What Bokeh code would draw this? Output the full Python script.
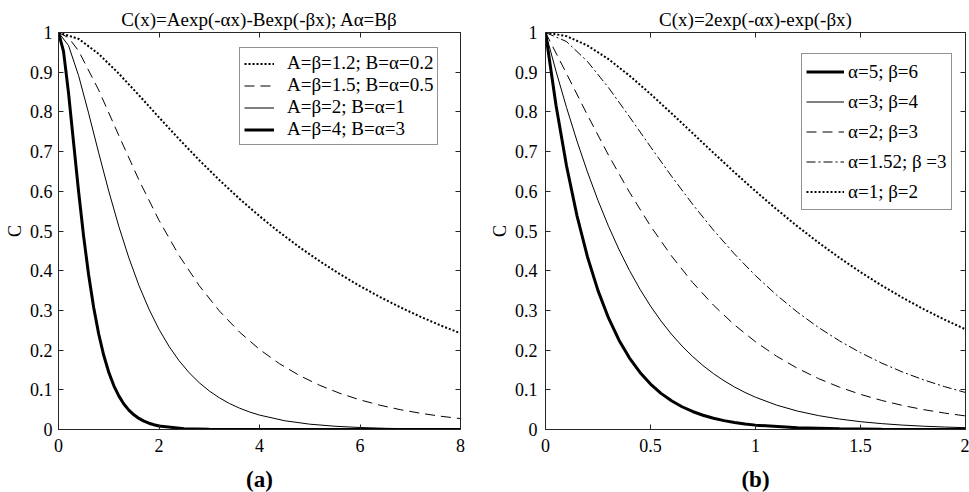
from bokeh.plotting import figure
from bokeh.models import (LinearAxis, FixedTicker, Legend, LegendItem, Range1d,
                          CustomJSTickFormatter)
from bokeh.layouts import row
from bokeh.embed import file_html
from bokeh.resources import INLINE

# ---------------- data: panel (a)  C(x)=Aexp(-ax)-Bexp(-bx), A=b, B=a ----------------
xa_12 = [0, 0.4, 0.8, 1.2, 1.6, 2.0, 2.4, 2.8, 3.2, 3.6, 4.0, 4.4, 4.8, 5.2, 5.6, 6.0,
         6.4, 6.8, 7.2, 7.6, 8.0]
ca_12 = [1, 0.9840, 0.9460, 0.8966, 0.8421, 0.7862, 0.7313, 0.6785, 0.6285, 0.5814,
         0.5375, 0.4967, 0.4588, 0.4238, 0.3913, 0.3613, 0.3336, 0.3079, 0.2843, 0.2624,
         0.2423]

xa_15 = [0, 0.2, 0.4, 0.8, 1.2, 1.6, 2.0, 2.4, 2.8, 3.2, 3.6, 4.0, 4.4, 4.8, 5.2, 5.6,
         6.0, 6.4, 6.8, 7.2, 7.6, 8.0]
ca_15 = [1, 0.9868, 0.9537, 0.8549, 0.7406, 0.6286, 0.5269, 0.4381, 0.3624, 0.2987,
         0.2457, 0.2018, 0.1655, 0.1357, 0.1112, 0.0911, 0.0746, 0.0611, 0.0500, 0.0410,
         0.0335, 0.0275]

xa_2 = [0, 0.2, 0.4, 0.6, 0.8, 1.0, 1.2, 1.4, 1.6, 1.8, 2.0, 2.2, 2.4, 2.6, 2.8, 3.0,
        3.2, 3.4, 3.6, 3.8, 4.0, 4.5, 5.0, 5.5, 6.0, 6.5, 7.0, 7.5, 8.0]
ca_2 = [1, 0.9671, 0.8913, 0.7964, 0.6968, 0.6004, 0.5117, 0.4324, 0.3630, 0.3033,
        0.2524, 0.2093, 0.1732, 0.1430, 0.1179, 0.0971, 0.0799, 0.0656, 0.0539, 0.0442,
        0.0363, 0.0221, 0.0134, 0.0082, 0.0050, 0.0030, 0.0018, 0.0011, 0.0007]

xa_4 = [0, 0.1, 0.2, 0.3, 0.4, 0.5, 0.6, 0.7, 0.8, 0.9, 1.0, 1.1, 1.2, 1.3, 1.4, 1.5,
        1.6, 1.7, 1.8, 1.9, 2.0, 2.5, 3, 4, 5, 6, 7, 8]
ca_4 = [1, 0.9523, 0.8473, 0.7227, 0.5991, 0.4865, 0.3890, 0.3074, 0.2406, 0.1869,
        0.1442, 0.1107, 0.0846, 0.0644, 0.0489, 0.0370, 0.0279, 0.0210, 0.0158, 0.0119,
        0.0089, 0.0021, 0.0005, 0, 0, 0, 0, 0]

labels_a = ["A=β=1.2; B=α=0.2", "A=β=1.5; B=α=0.5", "A=β=2; B=α=1", "A=β=4; B=α=3"]

# ---------------- data: panel (b)  C(x)=2exp(-ax)-exp(-bx) ----------------
xb_5 = [0, 0.05, 0.1, 0.15, 0.2, 0.25, 0.3, 0.35, 0.4, 0.45, 0.5, 0.55, 0.6, 0.65, 0.7,
        0.75, 0.8, 0.85, 0.9, 0.95, 1.0, 1.2, 1.4, 1.6, 1.8, 2.0]
cb_5 = [1, 0.8168, 0.6643, 0.5382, 0.4346, 0.3499, 0.2810, 0.2251, 0.1800, 0.1436,
        0.1144, 0.0910, 0.0723, 0.0573, 0.0454, 0.0359, 0.0284, 0.0224, 0.0177, 0.0140,
        0.0110, 0.0042, 0.0016, 0.0006, 0.0002, 0.0001]

xb_3 = [0, 0.05, 0.1, 0.15, 0.2, 0.25, 0.3, 0.35, 0.4, 0.45, 0.5, 0.55, 0.6, 0.65, 0.7,
        0.75, 0.8, 0.85, 0.9, 0.95, 1.0, 1.1, 1.2, 1.3, 1.4, 1.5, 1.6, 1.7, 1.8, 1.9, 2.0]
cb_3 = [1, 0.9027, 0.8113, 0.7264, 0.6483, 0.5769, 0.5119, 0.4533, 0.4005, 0.3532,
        0.3109, 0.2733, 0.2399, 0.2103, 0.1841, 0.1610, 0.1407, 0.1228, 0.1071, 0.0933,
        0.0813, 0.0615, 0.0464, 0.0350, 0.0263, 0.0197, 0.0148, 0.0111, 0.0083, 0.0062,
        0.0046]

xb = [0, 0.1, 0.2, 0.3, 0.4, 0.5, 0.6, 0.7, 0.8, 0.9, 1.0, 1.1, 1.2, 1.3, 1.4, 1.5, 1.6,
      1.7, 1.8, 1.9, 2.0]
cb_2 = [1, 0.8966, 0.7918, 0.6911, 0.5975, 0.5126, 0.4371, 0.3707, 0.3131, 0.2634,
        0.2209, 0.1847, 0.1541, 0.1283, 0.1066, 0.0885, 0.0733, 0.0606, 0.0501, 0.0414,
        0.0342]
cb_152 = [1, 0.9772, 0.9269, 0.8611, 0.7877, 0.7122, 0.6381, 0.5677, 0.5021, 0.4420,
          0.3876, 0.3389, 0.2954, 0.2570, 0.2232, 0.1935, 0.1675, 0.1448, 0.1251, 0.1080,
          0.0932]
cb_1 = [1, 0.9909, 0.9671, 0.9328, 0.8913, 0.8452, 0.7964, 0.7466, 0.6968, 0.6478,
        0.6004, 0.5549, 0.5117, 0.4708, 0.4324, 0.3965, 0.3630, 0.3320, 0.3033, 0.2768,
        0.2524]

labels_b = ["α=5; β=6", "α=3; β=4", "α=2; β=3", "α=1.52; β =3", "α=1; β=2"]

y_ticks = [0, 0.1, 0.2, 0.3, 0.4, 0.5, 0.6, 0.7, 0.8, 0.9, 1]
xticks_a = [0, 2, 4, 6, 8]
xticks_b = [0, 0.5, 1, 1.5, 2]

title_a = "C(x)=Aexp(-αx)-Bexp(-βx); Aα=Bβ"
title_b = "C(x)=2exp(-αx)-exp(-βx)"

FONT = "Liberation Serif"
AX = "#262626"
FS = "18px"
FS_BIG = "19px"


def make_panel(xmax, xticks, title, sub, bl, fw, br, ystand):
    p = figure(x_range=Range1d(0, xmax), y_range=Range1d(0, 1),
               frame_width=fw, frame_height=397,
               min_border_left=bl, min_border_right=br,
               min_border_top=32, min_border_bottom=63,
               output_backend="svg", toolbar_location=None, title=None)
    p.grid.visible = False
    p.outline_line_color = AX
    p.background_fill_color = "white"
    p.border_fill_color = "white"

    fmt = CustomJSTickFormatter(code="return tick.toString();")
    blank = CustomJSTickFormatter(code="return '';")
    bottom = p.below[0]
    left = p.left[0]
    top = LinearAxis(ticker=FixedTicker(ticks=xticks), axis_label=title)
    right = LinearAxis(ticker=FixedTicker(ticks=y_ticks))
    p.add_layout(top, "above")
    p.add_layout(right, "right")
    bottom.ticker = FixedTicker(ticks=xticks)
    left.ticker = FixedTicker(ticks=y_ticks)
    for ax in (bottom, left, top, right):
        ax.formatter = fmt
        ax.major_tick_in = 5
        ax.major_tick_out = 0
        ax.minor_tick_line_color = None
        ax.axis_line_color = AX
        ax.major_tick_line_color = AX
        ax.major_label_text_font = FONT
        ax.major_label_text_font_size = FS
        ax.major_label_text_color = "black"
        ax.axis_label_text_font = FONT
        ax.axis_label_text_color = "black"
        ax.axis_label_text_font_style = "normal"
    for ax in (top, right):
        ax.formatter = blank
        ax.major_label_text_color = None
        ax.major_label_text_font_size = "1px"
        ax.major_label_standoff = 0
    top.axis_label_text_font_size = FS_BIG
    top.axis_label_standoff = 3
    bottom.axis_label = sub
    bottom.axis_label_text_font_size = "23px"
    bottom.axis_label_text_font_style = "bold"
    bottom.major_label_standoff = 9
    bottom.axis_label_standoff = 12
    left.axis_label = "C"
    left.axis_label_text_font_size = FS
    left.major_label_standoff = ystand
    left.axis_label_standoff = 2
    return p


def style_legend(leg, lh, gw, standoff, spacing):
    leg.border_line_color = AX
    leg.border_line_width = 1
    leg.background_fill_color = "white"
    leg.background_fill_alpha = 1
    leg.label_text_font = FONT
    leg.label_text_font_size = FS_BIG
    leg.label_text_color = "black"
    leg.label_height = lh
    leg.glyph_height = lh
    leg.glyph_width = gw
    leg.label_standoff = standoff
    leg.spacing = spacing
    leg.padding = 4
    leg.margin = 0


DOT = "2 2"
DASH = "10 6"
DASHDOT = "9 3 2 3"

# ---------------- panel (a) ----------------
pa = make_panel(8, xticks_a, title_a, "(a)", 58, 402, 24, 6)
ra1 = pa.line(xa_12, ca_12, line_color="black", line_width=2, line_dash=DOT)
ra2 = pa.line(xa_15, ca_15, line_color="black", line_width=1, line_dash=DASH)
ra3 = pa.line(xa_2, ca_2, line_color="black", line_width=1)
ra4 = pa.line(xa_4, ca_4, line_color="black", line_width=3)
leg_a = Legend(items=[LegendItem(label=labels_a[0], renderers=[ra1]),
                      LegendItem(label=labels_a[1], renderers=[ra2]),
                      LegendItem(label=labels_a[2], renderers=[ra3]),
                      LegendItem(label=labels_a[3], renderers=[ra4])],
               location=(181, 284))
style_legend(leg_a, 21, 30, 13, 0)
pa.add_layout(leg_a)

# ---------------- panel (b) ----------------
pb = make_panel(2, xticks_b, title_b, "(b)", 61, 420, 4, 8)
rb1 = pb.line(xb_5, cb_5, line_color="black", line_width=3)
rb2 = pb.line(xb_3, cb_3, line_color="black", line_width=1)
rb3 = pb.line(xb, cb_2, line_color="black", line_width=1, line_dash=DASH)
rb4 = pb.line(xb, cb_152, line_color="black", line_width=1, line_dash=DASHDOT)
rb5 = pb.line(xb, cb_1, line_color="black", line_width=2, line_dash=DOT)
leg_b = Legend(items=[LegendItem(label=labels_b[0], renderers=[rb1]),
                      LegendItem(label=labels_b[1], renderers=[rb2]),
                      LegendItem(label=labels_b[2], renderers=[rb3]),
                      LegendItem(label=labels_b[3], renderers=[rb4]),
                      LegendItem(label=labels_b[4], renderers=[rb5])],
               location=(256, 219))
style_legend(leg_b, 27, 38, 4, 3)
pb.add_layout(leg_b)

layout = row(pa, pb)
open("out.html", "w").write(file_html(layout, INLINE))
